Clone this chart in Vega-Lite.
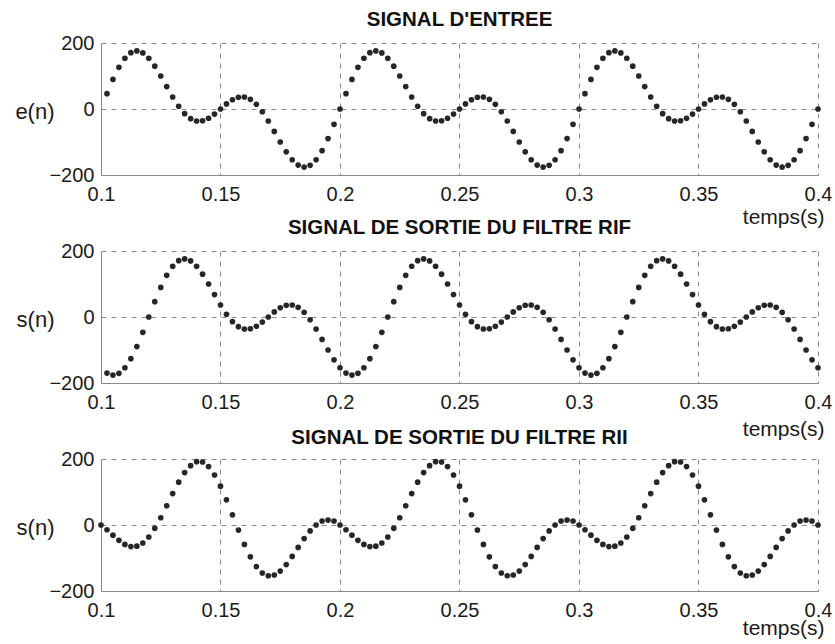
{
"$schema": "https://vega.github.io/schema/vega-lite/v6.json",
"padding": {"left": 14, "top": 9, "right": 2, "bottom": 5},
"background": "white",
"bounds": "flush",
"spacing": 76,
"config": {
  "font": "Liberation Sans",
  "view": {"stroke": null},
  "axis": {"labelFont": "Liberation Sans", "labelFontSize": 20, "labelColor": "#1a1a1a", "titleFont": "Liberation Sans", "titleFontWeight": "normal", "titleColor": "#1a1a1a", "grid": true, "gridColor": "#8a8a8a", "gridDash": [5, 5], "gridWidth": 1, "domainColor": "#8a8a8a", "domainWidth": 1, "ticks": false},
  "axisX": {"labelPadding": 9, "labelFlush": false, "titleAlign": "right", "titleBaseline": "middle", "titleX": 723, "titleFontSize": 21, "titlePadding": 0},
  "axisY": {"labelPadding": 7, "labelBaseline": "middle", "titleAngle": 0, "titleAlign": "right", "titleBaseline": "middle", "titleX": -47, "titleY": 68, "titleFontSize": 22, "titlePadding": 0},
  "title": {"font": "Liberation Sans", "fontSize": 20.5, "fontWeight": "bold", "color": "#111111", "anchor": "middle", "frame": "group", "baseline": "alphabetic", "offset": 3}
},
"datasets": {
 "e": [
{"t":0.1025,"v":46.5},{"t":0.105,"v":89.7},{"t":0.1075,"v":126.3},{"t":0.11,"v":153.9},{"t":0.1125,"v":170.7},{"t":0.115,"v":176},{"t":0.1175,"v":170},{"t":0.12,"v":153.9},{"t":0.1225,"v":129.7},{"t":0.125,"v":100},
{"t":0.1275,"v":67.9},{"t":0.13,"v":36.3},{"t":0.1325,"v":8.2},{"t":0.135,"v":-14.2},{"t":0.1375,"v":-29.3},{"t":0.14,"v":-36.3},{"t":0.1425,"v":-35.5},{"t":0.145,"v":-27.9},{"t":0.1475,"v":-15.3},{"t":0.15,"v":0},
{"t":0.1525,"v":15.3},{"t":0.155,"v":27.9},{"t":0.1575,"v":35.5},{"t":0.16,"v":36.3},{"t":0.1625,"v":29.3},{"t":0.165,"v":14.2},{"t":0.1675,"v":-8.2},{"t":0.17,"v":-36.3},{"t":0.1725,"v":-67.9},{"t":0.175,"v":-100},
{"t":0.1775,"v":-129.7},{"t":0.18,"v":-153.9},{"t":0.1825,"v":-170},{"t":0.185,"v":-176},{"t":0.1875,"v":-170.7},{"t":0.19,"v":-153.9},{"t":0.1925,"v":-126.3},{"t":0.195,"v":-89.7},{"t":0.1975,"v":-46.5},{"t":0.2,"v":0},
{"t":0.2025,"v":46.5},{"t":0.205,"v":89.7},{"t":0.2075,"v":126.3},{"t":0.21,"v":153.9},{"t":0.2125,"v":170.7},{"t":0.215,"v":176},{"t":0.2175,"v":170},{"t":0.22,"v":153.9},{"t":0.2225,"v":129.7},{"t":0.225,"v":100},
{"t":0.2275,"v":67.9},{"t":0.23,"v":36.3},{"t":0.2325,"v":8.2},{"t":0.235,"v":-14.2},{"t":0.2375,"v":-29.3},{"t":0.24,"v":-36.3},{"t":0.2425,"v":-35.5},{"t":0.245,"v":-27.9},{"t":0.2475,"v":-15.3},{"t":0.25,"v":0},
{"t":0.2525,"v":15.3},{"t":0.255,"v":27.9},{"t":0.2575,"v":35.5},{"t":0.26,"v":36.3},{"t":0.2625,"v":29.3},{"t":0.265,"v":14.2},{"t":0.2675,"v":-8.2},{"t":0.27,"v":-36.3},{"t":0.2725,"v":-67.9},{"t":0.275,"v":-100},
{"t":0.2775,"v":-129.7},{"t":0.28,"v":-153.9},{"t":0.2825,"v":-170},{"t":0.285,"v":-176},{"t":0.2875,"v":-170.7},{"t":0.29,"v":-153.9},{"t":0.2925,"v":-126.3},{"t":0.295,"v":-89.7},{"t":0.2975,"v":-46.5},{"t":0.3,"v":0},
{"t":0.3025,"v":46.5},{"t":0.305,"v":89.7},{"t":0.3075,"v":126.3},{"t":0.31,"v":153.9},{"t":0.3125,"v":170.7},{"t":0.315,"v":176},{"t":0.3175,"v":170},{"t":0.32,"v":153.9},{"t":0.3225,"v":129.7},{"t":0.325,"v":100},
{"t":0.3275,"v":67.9},{"t":0.33,"v":36.3},{"t":0.3325,"v":8.2},{"t":0.335,"v":-14.2},{"t":0.3375,"v":-29.3},{"t":0.34,"v":-36.3},{"t":0.3425,"v":-35.5},{"t":0.345,"v":-27.9},{"t":0.3475,"v":-15.3},{"t":0.35,"v":0},
{"t":0.3525,"v":15.3},{"t":0.355,"v":27.9},{"t":0.3575,"v":35.5},{"t":0.36,"v":36.3},{"t":0.3625,"v":29.3},{"t":0.365,"v":14.2},{"t":0.3675,"v":-8.2},{"t":0.37,"v":-36.3},{"t":0.3725,"v":-67.9},{"t":0.375,"v":-100},
{"t":0.3775,"v":-129.7},{"t":0.38,"v":-153.9},{"t":0.3825,"v":-170},{"t":0.385,"v":-176},{"t":0.3875,"v":-170.7},{"t":0.39,"v":-153.9},{"t":0.3925,"v":-126.3},{"t":0.395,"v":-89.7},{"t":0.3975,"v":-46.5},{"t":0.4,"v":0}
 ],
 "f": [
{"t":0.1025,"v":-170},{"t":0.105,"v":-176},{"t":0.1075,"v":-170.7},{"t":0.11,"v":-153.9},{"t":0.1125,"v":-126.3},{"t":0.115,"v":-89.7},{"t":0.1175,"v":-46.5},{"t":0.12,"v":0},{"t":0.1225,"v":46.5},{"t":0.125,"v":89.7},
{"t":0.1275,"v":126.3},{"t":0.13,"v":153.9},{"t":0.1325,"v":170.7},{"t":0.135,"v":176},{"t":0.1375,"v":170},{"t":0.14,"v":153.9},{"t":0.1425,"v":129.7},{"t":0.145,"v":100},{"t":0.1475,"v":67.9},{"t":0.15,"v":36.3},
{"t":0.1525,"v":8.2},{"t":0.155,"v":-14.2},{"t":0.1575,"v":-29.3},{"t":0.16,"v":-36.3},{"t":0.1625,"v":-35.5},{"t":0.165,"v":-27.9},{"t":0.1675,"v":-15.3},{"t":0.17,"v":0},{"t":0.1725,"v":15.3},{"t":0.175,"v":27.9},
{"t":0.1775,"v":35.5},{"t":0.18,"v":36.3},{"t":0.1825,"v":29.3},{"t":0.185,"v":14.2},{"t":0.1875,"v":-8.2},{"t":0.19,"v":-36.3},{"t":0.1925,"v":-67.9},{"t":0.195,"v":-100},{"t":0.1975,"v":-129.7},{"t":0.2,"v":-153.9},
{"t":0.2025,"v":-170},{"t":0.205,"v":-176},{"t":0.2075,"v":-170.7},{"t":0.21,"v":-153.9},{"t":0.2125,"v":-126.3},{"t":0.215,"v":-89.7},{"t":0.2175,"v":-46.5},{"t":0.22,"v":0},{"t":0.2225,"v":46.5},{"t":0.225,"v":89.7},
{"t":0.2275,"v":126.3},{"t":0.23,"v":153.9},{"t":0.2325,"v":170.7},{"t":0.235,"v":176},{"t":0.2375,"v":170},{"t":0.24,"v":153.9},{"t":0.2425,"v":129.7},{"t":0.245,"v":100},{"t":0.2475,"v":67.9},{"t":0.25,"v":36.3},
{"t":0.2525,"v":8.2},{"t":0.255,"v":-14.2},{"t":0.2575,"v":-29.3},{"t":0.26,"v":-36.3},{"t":0.2625,"v":-35.5},{"t":0.265,"v":-27.9},{"t":0.2675,"v":-15.3},{"t":0.27,"v":0},{"t":0.2725,"v":15.3},{"t":0.275,"v":27.9},
{"t":0.2775,"v":35.5},{"t":0.28,"v":36.3},{"t":0.2825,"v":29.3},{"t":0.285,"v":14.2},{"t":0.2875,"v":-8.2},{"t":0.29,"v":-36.3},{"t":0.2925,"v":-67.9},{"t":0.295,"v":-100},{"t":0.2975,"v":-129.7},{"t":0.3,"v":-153.9},
{"t":0.3025,"v":-170},{"t":0.305,"v":-176},{"t":0.3075,"v":-170.7},{"t":0.31,"v":-153.9},{"t":0.3125,"v":-126.3},{"t":0.315,"v":-89.7},{"t":0.3175,"v":-46.5},{"t":0.32,"v":0},{"t":0.3225,"v":46.5},{"t":0.325,"v":89.7},
{"t":0.3275,"v":126.3},{"t":0.33,"v":153.9},{"t":0.3325,"v":170.7},{"t":0.335,"v":176},{"t":0.3375,"v":170},{"t":0.34,"v":153.9},{"t":0.3425,"v":129.7},{"t":0.345,"v":100},{"t":0.3475,"v":67.9},{"t":0.35,"v":36.3},
{"t":0.3525,"v":8.2},{"t":0.355,"v":-14.2},{"t":0.3575,"v":-29.3},{"t":0.36,"v":-36.3},{"t":0.3625,"v":-35.5},{"t":0.365,"v":-27.9},{"t":0.3675,"v":-15.3},{"t":0.37,"v":0},{"t":0.3725,"v":15.3},{"t":0.375,"v":27.9},
{"t":0.3775,"v":35.5},{"t":0.38,"v":36.3},{"t":0.3825,"v":29.3},{"t":0.385,"v":14.2},{"t":0.3875,"v":-8.2},{"t":0.39,"v":-36.3},{"t":0.3925,"v":-67.9},{"t":0.395,"v":-100},{"t":0.3975,"v":-129.7},{"t":0.4,"v":-153.9}
 ],
 "g": [
{"t":0.1,"v":0},
{"t":0.1025,"v":-14.5},{"t":0.105,"v":-30.9},{"t":0.1075,"v":-46.5},{"t":0.11,"v":-58.8},{"t":0.1125,"v":-65.3},{"t":0.115,"v":-64.2},{"t":0.1175,"v":-54.6},{"t":0.12,"v":-36.3},{"t":0.1225,"v":-10.2},{"t":0.125,"v":22.1},
{"t":0.1275,"v":58.2},{"t":0.13,"v":95.1},{"t":0.1325,"v":129.7},{"t":0.135,"v":158.8},{"t":0.1375,"v":179.7},{"t":0.14,"v":192},{"t":0.1425,"v":191},{"t":0.145,"v":177},{"t":0.1475,"v":151.6},{"t":0.15,"v":117.6},
{"t":0.1525,"v":76.3},{"t":0.155,"v":30.9},{"t":0.1575,"v":-15.3},{"t":0.16,"v":-58.8},{"t":0.1625,"v":-96.5},{"t":0.165,"v":-126},{"t":0.1675,"v":-145.4},{"t":0.17,"v":-153.9},{"t":0.1725,"v":-151.6},{"t":0.175,"v":-139.7},
{"t":0.1775,"v":-120},{"t":0.18,"v":-95.1},{"t":0.1825,"v":-67.9},{"t":0.185,"v":-41.2},{"t":0.1875,"v":-17.9},{"t":0.19,"v":0},{"t":0.1925,"v":12},{"t":0.195,"v":15},{"t":0.1975,"v":12},{"t":0.2,"v":0},
{"t":0.2025,"v":-14.5},{"t":0.205,"v":-30.9},{"t":0.2075,"v":-46.5},{"t":0.21,"v":-58.8},{"t":0.2125,"v":-65.3},{"t":0.215,"v":-64.2},{"t":0.2175,"v":-54.6},{"t":0.22,"v":-36.3},{"t":0.2225,"v":-10.2},{"t":0.225,"v":22.1},
{"t":0.2275,"v":58.2},{"t":0.23,"v":95.1},{"t":0.2325,"v":129.7},{"t":0.235,"v":158.8},{"t":0.2375,"v":179.7},{"t":0.24,"v":192},{"t":0.2425,"v":191},{"t":0.245,"v":177},{"t":0.2475,"v":151.6},{"t":0.25,"v":117.6},
{"t":0.2525,"v":76.3},{"t":0.255,"v":30.9},{"t":0.2575,"v":-15.3},{"t":0.26,"v":-58.8},{"t":0.2625,"v":-96.5},{"t":0.265,"v":-126},{"t":0.2675,"v":-145.4},{"t":0.27,"v":-153.9},{"t":0.2725,"v":-151.6},{"t":0.275,"v":-139.7},
{"t":0.2775,"v":-120},{"t":0.28,"v":-95.1},{"t":0.2825,"v":-67.9},{"t":0.285,"v":-41.2},{"t":0.2875,"v":-17.9},{"t":0.29,"v":0},{"t":0.2925,"v":12},{"t":0.295,"v":15},{"t":0.2975,"v":12},{"t":0.3,"v":0},
{"t":0.3025,"v":-14.5},{"t":0.305,"v":-30.9},{"t":0.3075,"v":-46.5},{"t":0.31,"v":-58.8},{"t":0.3125,"v":-65.3},{"t":0.315,"v":-64.2},{"t":0.3175,"v":-54.6},{"t":0.32,"v":-36.3},{"t":0.3225,"v":-10.2},{"t":0.325,"v":22.1},
{"t":0.3275,"v":58.2},{"t":0.33,"v":95.1},{"t":0.3325,"v":129.7},{"t":0.335,"v":158.8},{"t":0.3375,"v":179.7},{"t":0.34,"v":192},{"t":0.3425,"v":191},{"t":0.345,"v":177},{"t":0.3475,"v":151.6},{"t":0.35,"v":117.6},
{"t":0.3525,"v":76.3},{"t":0.355,"v":30.9},{"t":0.3575,"v":-15.3},{"t":0.36,"v":-58.8},{"t":0.3625,"v":-96.5},{"t":0.365,"v":-126},{"t":0.3675,"v":-145.4},{"t":0.37,"v":-153.9},{"t":0.3725,"v":-151.6},{"t":0.375,"v":-139.7},
{"t":0.3775,"v":-120},{"t":0.38,"v":-95.1},{"t":0.3825,"v":-67.9},{"t":0.385,"v":-41.2},{"t":0.3875,"v":-17.9},{"t":0.39,"v":0},{"t":0.3925,"v":12},{"t":0.395,"v":15},{"t":0.3975,"v":12},{"t":0.4,"v":0}
 ]
},
"vconcat": [
 {
  "width": 717, "height": 132,
  "data": {"name": "e"},
  "title": {"text": "SIGNAL D'ENTREE"},
  "mark": {"type": "circle", "size": 32, "color": "#262626", "opacity": 1},
  "encoding": {
   "x": {"field": "t", "type": "quantitative", "scale": {"domain": [0.1, 0.4], "nice": false, "zero": false}, "axis": {"values": [0.1, 0.15, 0.2, 0.25, 0.3, 0.35, 0.4], "format": ".2~f", "title": "temps(s)", "titleY": 42}},
   "y": {"field": "v", "type": "quantitative", "scale": {"domain": [-200, 200], "nice": false}, "axis": {"values": [-200, 0, 200], "title": "e(n)"}}
  }
 },
 {
  "width": 717, "height": 132,
  "data": {"name": "f"},
  "title": {"text": "SIGNAL DE SORTIE DU FILTRE RIF"},
  "mark": {"type": "circle", "size": 32, "color": "#262626", "opacity": 1},
  "encoding": {
   "x": {"field": "t", "type": "quantitative", "scale": {"domain": [0.1, 0.4], "nice": false, "zero": false}, "axis": {"values": [0.1, 0.15, 0.2, 0.25, 0.3, 0.35, 0.4], "format": ".2~f", "title": "temps(s)", "titleY": 46}},
   "y": {"field": "v", "type": "quantitative", "scale": {"domain": [-200, 200], "nice": false}, "axis": {"values": [-200, 0, 200], "title": "s(n)"}}
  }
 },
 {
  "width": 717, "height": 132,
  "data": {"name": "g"},
  "title": {"text": "SIGNAL DE SORTIE DU FILTRE RII", "offset": 1},
  "mark": {"type": "circle", "size": 32, "color": "#262626", "opacity": 1},
  "encoding": {
   "x": {"field": "t", "type": "quantitative", "scale": {"domain": [0.1, 0.4], "nice": false, "zero": false}, "axis": {"values": [0.1, 0.15, 0.2, 0.25, 0.3, 0.35, 0.4], "format": ".2~f", "title": "temps(s)", "titleY": 37}},
   "y": {"field": "v", "type": "quantitative", "scale": {"domain": [-200, 200], "nice": false}, "axis": {"values": [-200, 0, 200], "title": "s(n)"}}
  }
 }
]
}
